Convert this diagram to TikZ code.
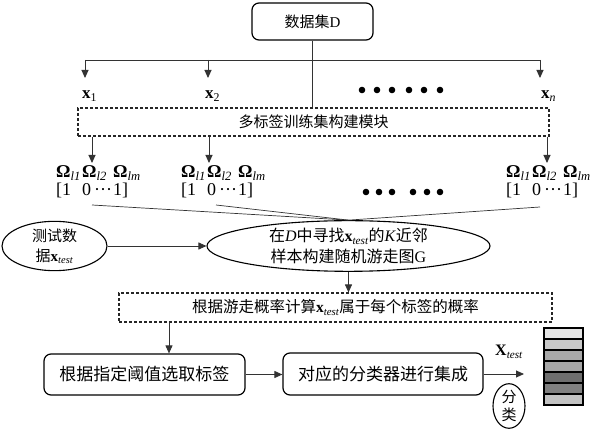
\documentclass[tikz,border=0pt]{standalone}
\usepackage{fontspec}
\setmainfont{Liberation Serif}
\newfontfamily\cjk{Noto Sans CJK SC}
\usetikzlibrary{arrows.meta,shapes.geometric}
\newcommand\sbt[1]{\textsubscript{\itshape #1}}
\newcommand\omg[1]{\fontsize{18}{18}\selectfont\renewcommand\arraystretch{1}%
\begin{tabular}{@{}p{26pt}@{}p{31pt}@{}l@{}}%
\textbf{Ω}\textsubscript{\itshape l1} & \textbf{Ω}\textsubscript{\itshape l2} & \textbf{Ω}\textsubscript{\itshape lm}\\
{[}1 & 0\,··· & 1{]}\end{tabular}}
\tikzset{
  rbox/.style={draw=black, line width=1.2pt, rounded corners=7pt, inner sep=0pt, align=center},
  dbox/.style={draw=black!85, line width=1.1pt, dash pattern=on 3pt off 2pt, inner sep=0pt, align=center},
  ell/.style={draw=black, line width=1.1pt, ellipse, inner sep=0pt, align=center},
  conn/.style={draw=black!80, line width=0.9pt},
  arr/.style={conn, -{Triangle[length=8pt,width=7pt]}},
  lbl/.style={inner sep=0pt, font=\fontsize{17}{18}\selectfont},
  cell/.style={draw=black, line width=1.2pt, minimum width=39pt, minimum height=11pt, inner sep=0pt}
}
\begin{document}
\begin{tikzpicture}[x=1pt,y=-1pt]
\useasboundingbox (0,0) rectangle (590,435);
% nodes
\node[rbox, minimum width=121pt, minimum height=37pt, font=\fontsize{15}{18}\selectfont] (D) at (312.5,21.5) {{\cjk 数据集}D};
\node[dbox, minimum width=471pt, minimum height=28pt, font=\fontsize{15}{18}\selectfont\cjk] (m1) at (313.5,122) {多标签训练集构建模块};
\node[lbl, anchor=base west] (x1) at (82,99) {\textbf{x}\textsubscript{1}};
\node[lbl, anchor=base west] (x2) at (205,99) {\textbf{x}\textsubscript{2}};
\node[lbl, anchor=base west] (xn) at (541,99) {\textbf{x}\textsubscript{\itshape n}};
\node[inner sep=0pt, anchor=north west] (o1) at (56,165) {\omg{}};
\node[inner sep=0pt, anchor=north west] (o2) at (181,165) {\omg{}};
\node[inner sep=0pt, anchor=north west] (o3) at (506,165) {\omg{}};
\node[ell, minimum width=105pt, minimum height=42pt, font=\fontsize{15}{20}\selectfont] (T) at (54.5,246) {{\cjk 测试数}\\{\cjk 据}\textbf{x}\sbt{test}};
\node[ell, minimum width=283pt, minimum height=50pt, font=\fontsize{16}{21}\selectfont] (G) at (348.5,246) {{\cjk 在}\textit{D}{\cjk 中寻找}\textbf{x}\sbt{test}{\cjk 的}\textit{K}{\cjk 近邻}\\{\cjk 样本构建随机游走图}G};
\node[dbox, minimum width=433pt, minimum height=29pt, font=\fontsize{15.5}{18}\selectfont] (m2) at (335.5,307.5) {{\cjk 根据游走概率计算}\textbf{x}\sbt{test}{\cjk 属于每个标签的概率}};
\node[rbox, minimum width=201pt, minimum height=41pt, font=\fontsize{17}{20}\selectfont\cjk] (B3) at (144.5,374.5) {根据指定阈值选取标签};
\node[rbox, minimum width=200pt, minimum height=42pt, font=\fontsize{17}{20}\selectfont\cjk] (B4) at (383,374) {对应的分类器进行集成};
\node[lbl, font=\fontsize{16}{18}\selectfont, anchor=base] (X) at (509,356) {\textbf{X}\sbt{test}};
\node[ell, minimum width=32pt, minimum height=42pt, font=\fontsize{15}{18}\selectfont\cjk] (C) at (509,406) {分\\类};
% bar stack
\node[cell, fill=black!10] (c1) at (563.5,333.5) {};
\node[cell, fill=black!21] (c2) at (563.5,344.5) {};
\node[cell, fill=black!34] (c3) at (563.5,355.5) {};
\node[cell, fill=black!35] (c4) at (563.5,366.5) {};
\node[cell, fill=black!57] (c5) at (563.5,377.5) {};
\node[cell, fill=black!50] (c6) at (563.5,388.5) {};
\node[cell, fill=black!24] (c7) at (563.5,399.5) {};
% dots
\foreach \xx in {362,377,392,409,424,440} \fill (\xx,90) circle (3.3pt);
\foreach \xx in {366,379,392,413,427,440} \fill (\xx,192) circle (3.3pt);
% coordinates
\coordinate (hL) at (85,60);
\coordinate (h2) at (208,60);
\coordinate (hR) at (540,60);
\coordinate (tL) at (85,78);
\coordinate (t2) at (208,78);
\coordinate (tR) at (540,78);
\coordinate (a1) at (92,163);
\coordinate (a2) at (209,163);
\coordinate (a3) at (547,163);
\coordinate (s1) at (92,205);
\coordinate (s2) at (216,205);
\coordinate (s3) at (540,207);
\coordinate (c169) at (169,0);
\coordinate (xe) at (524,374);
% connectors
\draw[conn] (D.south) -- (D.south |- m1.north);
\draw[conn] (hL) -- (hR);
\draw[arr] (hL) -- (tL);
\draw[arr] (h2) -- (t2);
\draw[arr] (hR) -- (tR);
\draw[arr] (m1.south -| a1) -- (a1);
\draw[arr] (m1.south -| a2) -- (a2);
\draw[arr] (m1.south -| a3) -- (a3);
\draw[conn, line width=0.7pt] (s1) -- (G.north);
\draw[conn, line width=0.7pt] (s2) -- (G.north);
\draw[conn, line width=0.7pt] (s3) -- (G.north);
\draw[arr] (T.east) -- (G.west);
\draw[arr] (G.south) -- (G.south |- m2.north);
\draw[arr] (m2.south -| c169) -- (B3.north -| c169);
\draw[arr] (B3.east) -- (B3.east -| B4.west);
\draw[arr] (B4.east) -- (xe);
\end{tikzpicture}
\end{document}
